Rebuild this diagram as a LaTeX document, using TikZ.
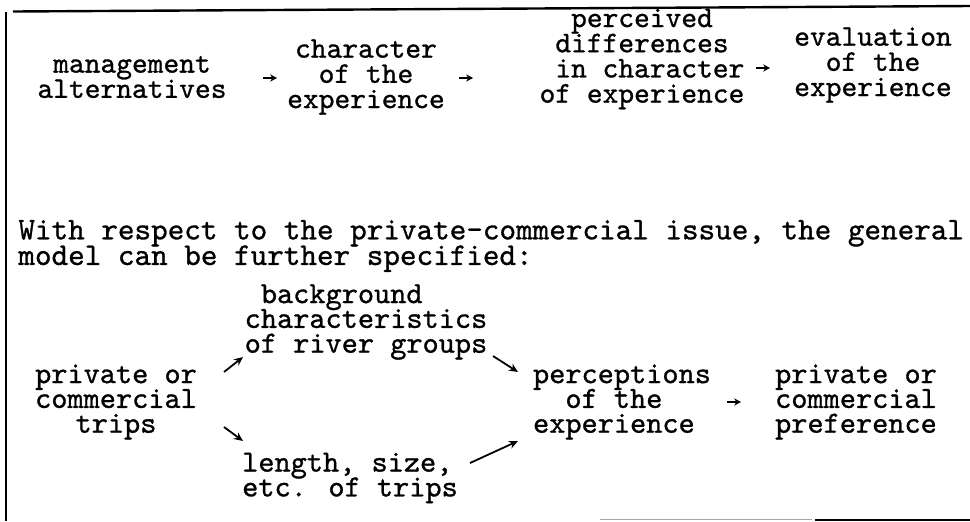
\documentclass[tikz,border=0pt]{standalone}
\usepackage{fontspec}
\usetikzlibrary{arrows.meta,calc}
% typewriter face, slightly heavier than the stock weight
\newfontfamily\tw{lmmono10-regular.otf}[FakeBold=0.9]
\setlength{\lineskiplimit}{-100pt}
\setlength{\lineskip}{0pt}
\begin{document}
\begin{tikzpicture}[x=0.5pt,y=-0.5pt,
  lbl/.style={inner sep=0pt, align=center,
    font=\tw\fontsize{15}{12.6}\selectfont},
  lbll/.style={lbl, align=left},
  blbl/.style={inner sep=0pt, align=center,
    font=\tw\fontsize{15.4}{12.4}\selectfont},
  blbll/.style={blbl, align=left},
  para/.style={inner sep=0pt, align=left,
    font=\tw\fontsize{15.8}{12.8}\selectfont},
  typed/.style={-{Stealth[length=3.4pt,width=3.6pt]}, line width=0.7pt},
  inked/.style={-{Stealth[length=4.5pt,width=4pt]}, line width=0.9pt},
  frame/.style={line width=1.2pt}]
\useasboundingbox (0,0) rectangle (970,521);

% frame of the page
\draw[frame] (6,12) -- (6,521);
\draw[frame] (13,11.5) -- (970,6);
\draw[line width=0.8pt, black!35] (600,519.5) -- (812,519.5);
\draw[line width=1pt] (815,519.5) -- (970,519.5);

% general model
\node[lbl]  (mgmt) at (132,77) {management\\alternatives};
\node[lbl]  (chr)  at (366,77) {character\\of the\\experience};
\node[lbll] (perc) at (642,59) {\ \ perceived\\\ differences\\\ in character\\of experience};
\node[lbl]  (eval) at (873,65) {evaluation\\of the\\experience};

\draw[typed] ($(mgmt)+(131,1)$) -- ($(chr)+(-89,1)$);
\draw[typed] ($(chr)+(93,1)$) -- ($(perc)+(-169,19)$);
\draw[typed] ($(perc)+(114,9)$) -- ($(eval)+(-103,3)$);

% running text
\node[para, anchor=west] (txt) at (18,246)
  {With respect to the private-commercial issue, the general\\model can be further specified:};

% specified model
\node[blbll] (bg)    at (366,322) {\ background\\characteristics\\of river groups};
\node[blbl]  (priv)  at (116,402) {private or\\commercial\\trips};
\node[blbll] (len)   at (350,478) {length, size,\\etc. of trips};
\node[blbll] (pexp)  at (622,402) {perceptions\\\ \ of the\\experience};
\node[blbl]  (pref)  at (856,402) {private or\\commercial\\preference};

\draw[inked] ($(priv)+(108,-30)$) -- ($(bg)+(-123,35)$);
\draw[inked] ($(priv)+(108,25)$) -- ($(len)+(-107,-37)$);
\draw[inked] ($(bg)+(127,34)$) -- ($(pexp)+(-104,-30)$);
\draw[inked] ($(len)+(120,-15)$) -- ($(pexp)+(-104,39)$);
\draw[typed] ($(pexp)+(105,0)$) -- ($(pref)+(-115,0)$);
\end{tikzpicture}
\end{document}
